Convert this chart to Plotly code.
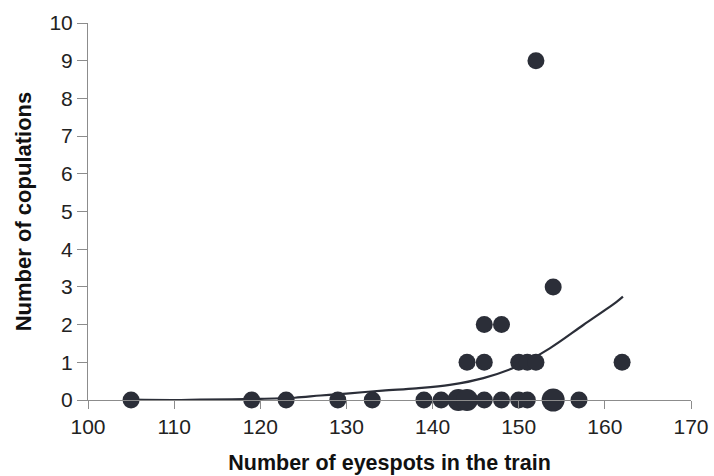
import plotly.graph_objects as go

# Observed data points (eyespots, copulations, marker size class)
eyespots = [105, 119, 123, 129, 133, 139, 141, 143, 144, 146, 148, 150, 151, 154, 157,
            144, 146, 150, 151, 152, 162,
            146, 148,
            154,
            152]
copulations = [0, 0, 0, 0, 0, 0, 0, 0, 0, 0, 0, 0, 0, 0, 0,
               1, 1, 1, 1, 1, 1,
               2, 2,
               3,
               9]
marker_sizes = [17, 17, 17, 17, 17, 17, 17, 22, 22, 17, 17, 17, 17, 23, 17,
                17, 17, 17, 17, 17, 17,
                17, 17,
                17,
                17]

# Fitted trend line
curve_x = [105, 110, 113, 120, 124, 127, 130, 134.2, 138.1, 142, 145.9, 149.7, 153.6, 157.5, 161.4, 162.1]
curve_y = [0.01, 0.0, 0.01, 0.03, 0.06, 0.12, 0.17, 0.25, 0.31, 0.40, 0.58, 0.88, 1.37, 1.99, 2.61, 2.74]

x_ticks = [100, 110, 120, 130, 140, 150, 160, 170]
y_ticks = [0, 1, 2, 3, 4, 5, 6, 7, 8, 9, 10]

dark = "#2b2e38"
axis_gray = "#8c8c8c"
font_family = "Liberation Sans, Arial, Helvetica, sans-serif"

fig = go.Figure()
fig.add_trace(go.Scatter(
    x=curve_x, y=curve_y, mode="lines",
    line=dict(color=dark, width=2.2, shape="spline", smoothing=1.0),
    hoverinfo="skip", showlegend=False, cliponaxis=False,
))
fig.add_trace(go.Scatter(
    x=eyespots, y=copulations, mode="markers",
    marker=dict(color=dark, size=marker_sizes, opacity=1, line=dict(width=0)),
    showlegend=False, cliponaxis=False,
))

fig.update_layout(
    width=714, height=476,
    margin=dict(l=88, r=23, t=23, b=76),
    paper_bgcolor="white", plot_bgcolor="white",
    font=dict(family=font_family, color="#222222", size=21),
    xaxis=dict(
        range=[100, 170], tickvals=x_ticks, ticktext=[str(v) for v in x_ticks],
        showgrid=False, zeroline=False, automargin=False,
        showline=True, linecolor=axis_gray, linewidth=1,
        ticks="outside", ticklen=8, tickcolor=axis_gray, tickwidth=1,
        tickfont=dict(size=21, color="#222222"),
        title=dict(text="<b>Number of eyespots in the train</b>",
                   font=dict(size=21.5, color="#111111"), standoff=17),
    ),
    yaxis=dict(
        range=[0, 10], tickvals=y_ticks, ticktext=[str(v) for v in y_ticks],
        showgrid=False, zeroline=False, automargin=False,
        showline=True, linecolor=axis_gray, linewidth=1,
        ticks="outside", ticklen=10, tickcolor=axis_gray, tickwidth=1,
        tickfont=dict(size=21, color="#222222"),
        title=dict(text="<b>Number of copulations</b>",
                   font=dict(size=22, color="#111111"), standoff=11),
    ),
)

fig.write_html("out.html",
               config={"displayModeBar": False},
               post_script="document.body.style.margin='0';document.body.style.overflow='hidden';")
